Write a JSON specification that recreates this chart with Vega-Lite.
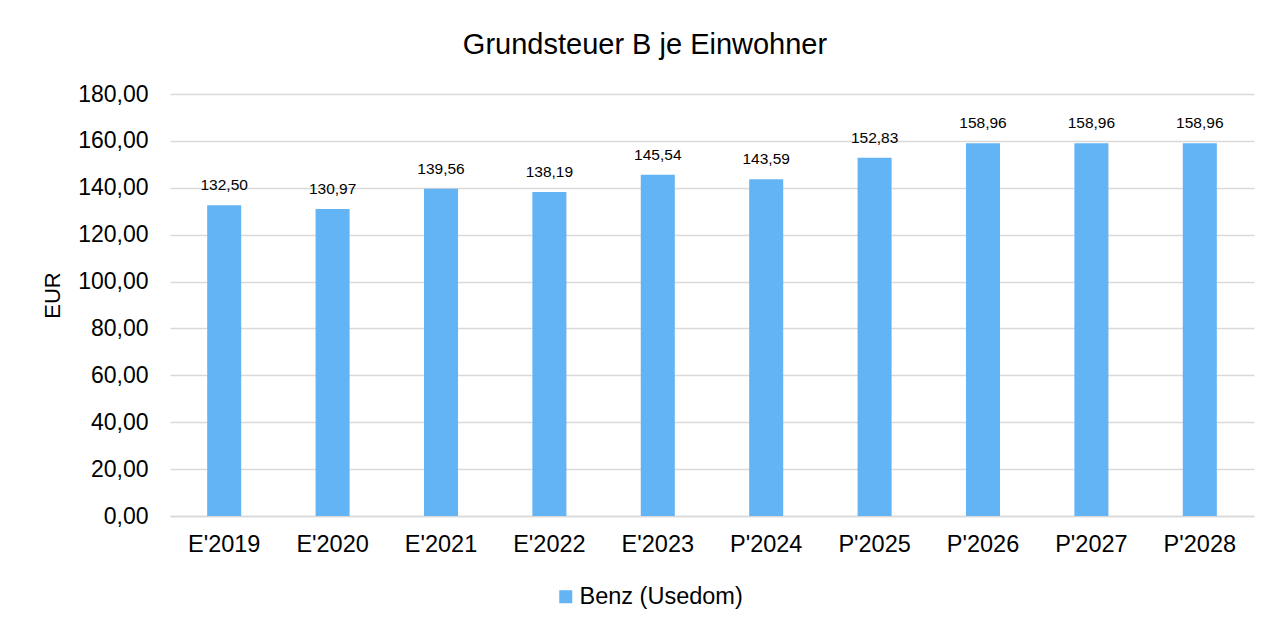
{
  "$schema": "https://vega.github.io/schema/vega-lite/v6.json",
  "autosize": "none",
  "width": 1084,
  "height": 422,
  "padding": {"left": 170, "top": 94, "right": 33, "bottom": 111},
  "background": "white",
  "config": {
    "font": "Liberation Sans",
    "view": {"stroke": null},
    "locale": {"number": {"decimal": ",", "thousands": ".", "grouping": [3], "currency": ["", " €"]}}
  },
  "title": {
    "text": "Grundsteuer B je Einwohner",
    "fontSize": 29,
    "fontWeight": "normal",
    "color": "#000000",
    "font": "Liberation Sans",
    "anchor": "middle",
    "dx": -67,
    "dy": 38,
    "offset": 38,
    "baseline": "alphabetic"
  },
  "data": {
    "values": [
      {"jahr": "E'2019", "wert": 132.50, "serie": "Benz (Usedom)"},
      {"jahr": "E'2020", "wert": 130.97, "serie": "Benz (Usedom)"},
      {"jahr": "E'2021", "wert": 139.56, "serie": "Benz (Usedom)"},
      {"jahr": "E'2022", "wert": 138.19, "serie": "Benz (Usedom)"},
      {"jahr": "E'2023", "wert": 145.54, "serie": "Benz (Usedom)"},
      {"jahr": "P'2024", "wert": 143.59, "serie": "Benz (Usedom)"},
      {"jahr": "P'2025", "wert": 152.83, "serie": "Benz (Usedom)"},
      {"jahr": "P'2026", "wert": 158.96, "serie": "Benz (Usedom)"},
      {"jahr": "P'2027", "wert": 158.96, "serie": "Benz (Usedom)"},
      {"jahr": "P'2028", "wert": 158.96, "serie": "Benz (Usedom)"}
    ]
  },
  "encoding": {
    "x": {
      "field": "jahr",
      "type": "nominal",
      "sort": null,
      "scale": {"paddingInner": 0.686, "paddingOuter": 0.343},
      "axis": {
        "title": null,
        "labelAngle": 0,
        "labelFontSize": 23.5,
        "labelColor": "#000000",
        "labelPadding": 16,
        "ticks": false,
        "domainColor": "#d9d9d9",
        "domainWidth": 1.5
      }
    },
    "y": {
      "field": "wert",
      "type": "quantitative",
      "scale": {"domain": [0, 180], "nice": false},
      "axis": {
        "title": "EUR",
        "titleFontSize": 22,
        "titleFontWeight": "normal",
        "titleColor": "#000000",
        "titleAngle": -90,
        "titleAlign": "center",
        "titleBaseline": "middle",
        "titleX": -118,
        "titleY": 201,
        "values": [0, 20, 40, 60, 80, 100, 120, 140, 160, 180],
        "format": ".2f",
        "labelFontSize": 23,
        "labelColor": "#000000",
        "labelPadding": 22,
        "domain": false,
        "ticks": false,
        "gridColor": "#d9d9d9",
        "gridWidth": 1.5
      }
    }
  },
  "layer": [
    {
      "mark": {"type": "bar"},
      "encoding": {
        "color": {
          "field": "serie",
          "type": "nominal",
          "scale": {"range": ["#63b4f5"]},
          "legend": {
            "title": null,
            "orient": "none",
            "legendX": 384,
            "legendY": 491,
            "symbolType": "square",
            "symbolSize": 169,
            "symbolStrokeWidth": 0,
            "labelFontSize": 23.5,
            "labelColor": "#000000",
            "labelOffset": 2,
            "labelLimit": 500
          }
        }
      }
    },
    {
      "mark": {"type": "text", "baseline": "alphabetic", "dy": -15, "fontSize": 15.5, "color": "#000000"},
      "encoding": {
        "text": {"field": "wert", "type": "quantitative", "format": ".2f"}
      }
    }
  ]
}
